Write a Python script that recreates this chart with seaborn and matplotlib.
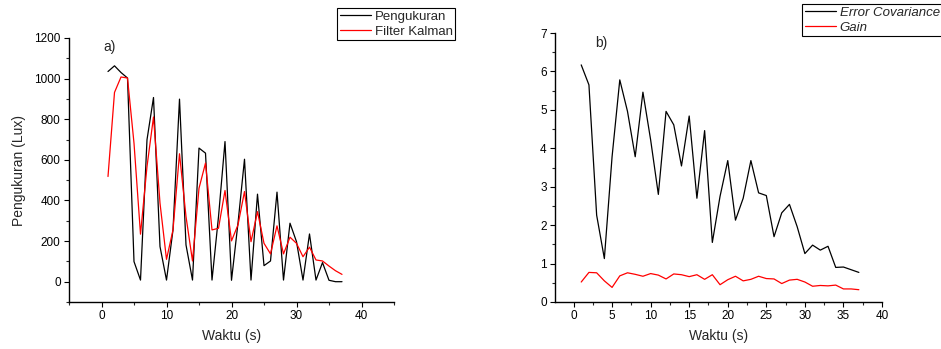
import numpy as np
import pandas as pd
import matplotlib
matplotlib.use("Agg")
import matplotlib.pyplot as plt
from matplotlib.ticker import MultipleLocator
import seaborn as sns

# ---- data ----
waktu = list(range(1, 38))
pengukuran = [1035, 1063, 1030, 1003, 99, 8, 699, 907, 173, 8,
              255, 899, 181, 8, 658, 633, 8, 320, 690, 7,
              289, 603, 8, 431, 79, 102, 441, 8, 288, 197,
              8, 235, 8, 94, 7, 0, 0]
filter_kalman = [518, 932, 1008, 1003, 682, 234, 567, 811, 387, 110,
                 255, 630, 321, 102, 460, 584, 255, 263, 449, 201,
                 280, 444, 197, 345, 189, 137, 275, 137, 219, 189,
                 123, 170, 107, 102, 77, 54, 36]
error_cov = [6.17, 5.65, 2.26, 1.13, 3.78, 5.78, 4.96, 3.78, 5.46, 4.22,
             2.80, 4.96, 4.61, 3.54, 4.84, 2.70, 4.46, 1.55, 2.75, 3.68,
             2.13, 2.70, 3.68, 2.84, 2.77, 1.70, 2.32, 2.54, 1.96, 1.26,
             1.48, 1.35, 1.45, 0.90, 0.91, 0.84, 0.77]
gain = [0.52, 0.77, 0.76, 0.55, 0.38, 0.68, 0.76, 0.72, 0.67, 0.74,
        0.70, 0.60, 0.73, 0.71, 0.66, 0.71, 0.59, 0.71, 0.45, 0.58,
        0.67, 0.55, 0.59, 0.67, 0.61, 0.60, 0.48, 0.57, 0.59, 0.52,
        0.41, 0.43, 0.42, 0.44, 0.34, 0.34, 0.32]

sns.set_theme(style="ticks")
plt.rcParams['font.family'] = ['Liberation Sans', 'DejaVu Sans']

W, H = 941, 349
fig = plt.figure(figsize=(W / 100, H / 100), dpi=100)

def frac(l, r, t, b):
    return [l / W, 1 - b / H, (r - l) / W, (b - t) / H]

ax1 = fig.add_axes(frac(69, 394, 38, 302))
ax2 = fig.add_axes(frac(555, 882, 33, 302))

df1 = pd.DataFrame({"Waktu": waktu, "Pengukuran": pengukuran, "Filter": filter_kalman})
df2 = pd.DataFrame({"Waktu": waktu, "Err": error_cov, "Gain": gain})

lw = 0.9
sns.lineplot(data=df1, x="Waktu", y="Pengukuran", ax=ax1, color="black", lw=lw, label="Pengukuran")
sns.lineplot(data=df1, x="Waktu", y="Filter", ax=ax1, color="red", lw=lw, label="Filter Kalman")
sns.lineplot(data=df2, x="Waktu", y="Err", ax=ax2, color="black", lw=lw, label="Error Covariance")
sns.lineplot(data=df2, x="Waktu", y="Gain", ax=ax2, color="red", lw=lw, label="Gain")

ax1.set_xlim(-5, 45)
ax1.set_ylim(-100, 1200)
ax1.xaxis.set_major_locator(MultipleLocator(10))
ax1.xaxis.set_minor_locator(MultipleLocator(5))
ax1.yaxis.set_major_locator(MultipleLocator(200))
ax1.yaxis.set_minor_locator(MultipleLocator(100))

ax2.set_xlim(-2.4, 40)
ax2.set_ylim(0, 7)
ax2.xaxis.set_major_locator(MultipleLocator(5))
ax2.xaxis.set_minor_locator(MultipleLocator(2.5))
ax2.yaxis.set_major_locator(MultipleLocator(1))
ax2.yaxis.set_minor_locator(MultipleLocator(0.5))

for ax in (ax1, ax2):
    for s in ("top", "right"):
        ax.spines[s].set_visible(False)
    for s in ("left", "bottom"):
        ax.spines[s].set_linewidth(1.0)
        ax.spines[s].set_color("black")
    ax.tick_params(which="major", direction="out", length=3.5, width=0.8, labelsize=8.5,
                   colors="black", pad=2.5)
    ax.tick_params(which="minor", direction="out", length=2, width=0.8)
    ax.set_xlabel("Waktu (s)", fontsize=10, labelpad=5)

ax1.set_ylabel("Pengukuran (Lux)", fontsize=10, labelpad=6)
ax2.set_ylabel("")

fig.text(103 / W, 1 - 47 / H, "a)", fontsize=10, va="center", ha="left")
fig.text(595 / W, 1 - 43 / H, "b)", fontsize=10, va="center", ha="left")

leg_kw = dict(loc="upper left", frameon=True, fancybox=False, framealpha=1,
              edgecolor="black", fontsize=9.5, handlelength=2.4, handletextpad=0.25,
              borderpad=0.2, labelspacing=0.2, borderaxespad=0)
l1 = ax1.legend(bbox_to_anchor=(337 / W, 1 - 8 / H), bbox_transform=fig.transFigure, **leg_kw)
l1.get_frame().set_linewidth(0.8)
l2 = ax2.legend(bbox_to_anchor=(802 / W, 1 - 4 / H), bbox_transform=fig.transFigure,
                prop={"style": "italic", "size": 9.5},
                **{k: v for k, v in leg_kw.items() if k != "fontsize"})
l2.get_frame().set_linewidth(0.8)

fig.savefig("out.png", dpi=100)
